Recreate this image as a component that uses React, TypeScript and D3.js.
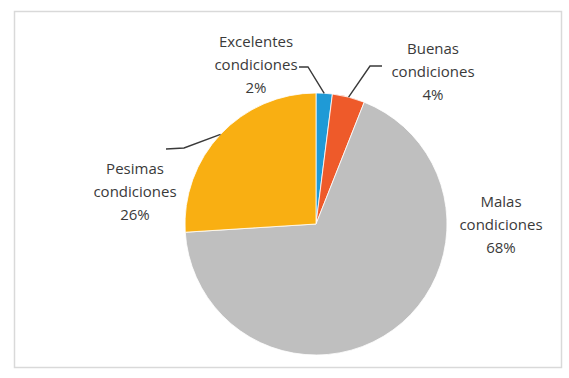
import React from "react";
import * as d3 from "d3";

const categories = ["Excelentes condiciones", "Buenas condiciones", "Malas condiciones", "Pesimas condiciones"];
const values = [2, 4, 68, 26];
const colors = ["#1F9AD6", "#EE5A2A", "#BFBFBF", "#F9AF12"];

const W = 569;
const H = 378;
const cx = 316;
const cy = 224;
const R = 131;

// label layout: [centerX, firstLineY, leader start x, leader start y, elbow x, elbow y]
const labelLayout = [
  { x: 256, y: 43, lx: 299, ly: 67, ex: 308, ey: 67 },
  { x: 433, y: 50, lx: 382, ly: 66, ex: 370, ey: 66 },
  { x: 501, y: 203, lx: null, ly: null, ex: null, ey: null },
  { x: 135, y: 170, lx: 166, ly: 149, ex: 184, ey: 148 },
];

export default function App() {
  const total = d3.sum(values);
  const pie = d3.pie<number>().sort(null).value((d) => d);
  const arcs = pie(values);
  const arc = d3.arc<d3.PieArcDatum<number>>().innerRadius(0).outerRadius(R);
  const edge = d3.arc<d3.PieArcDatum<number>>().innerRadius(R).outerRadius(R);
  const lineH = 23;

  return (
    <svg width={W} height={H} style={{ position: "absolute", left: 0, top: 0, background: "#fff" }}>
      <rect x={14.5} y={11.5} width={547} height={356} fill="#fff" stroke="#D9D9D9" strokeWidth={1.5} />
      <g transform={`translate(${cx},${cy})`}>
        {arcs.map((a, i) => (
          <path key={i} d={arc(a) || ""} fill={colors[i]} stroke="#fff" strokeWidth={0.8} />
        ))}
      </g>
      {arcs.map((a, i) => {
        const L = labelLayout[i];
        if (L.lx == null) return null;
        const mid = { ...a, startAngle: (a.startAngle + a.endAngle) / 2, endAngle: (a.startAngle + a.endAngle) / 2 };
        const [px, py] = edge.centroid(mid as any);
        const pts: [number, number][] = [
          [L.lx, L.ly],
          [L.ex, L.ey],
          [cx + px, cy + py],
        ];
        return (
          <path key={"l" + i} d={d3.line()(pts) || ""} fill="none" stroke="#3a3a3a" strokeWidth={1.4} />
        );
      })}
      {categories.map((c, i) => {
        const L = labelLayout[i];
        const words = c.split(" ");
        const pct = Math.round((values[i] / total) * 100) + "%";
        const lines = [words[0], words[1], pct];
        return (
          <text
            key={"t" + i}
            textAnchor="middle"
            fontFamily="'Open Sans', sans-serif"
            fontSize={15}
            fill="#3a3a3a"
          >
            {lines.map((ln, j) => (
              <tspan key={j} x={L.x} y={L.y + j * lineH} dominantBaseline="middle">
                {ln}
              </tspan>
            ))}
          </text>
        );
      })}
    </svg>
  );
}
